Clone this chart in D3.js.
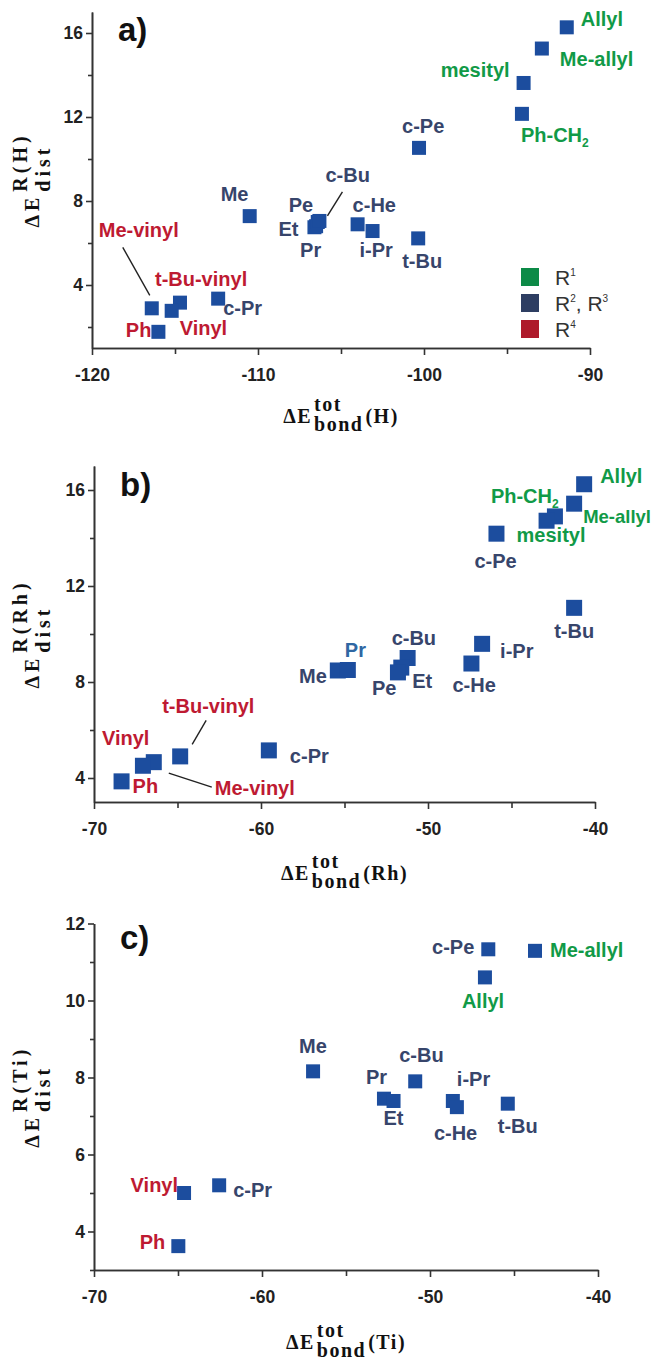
<!DOCTYPE html>
<html>
<head>
<meta charset="utf-8">
<script src="https://cdn.jsdelivr.net/npm/d3@7"></script>
<style>
  body { margin: 0; background: #fff; }
  svg { display: block; }
  .tick text { font-family: "Liberation Sans", Arial, sans-serif; font-weight: bold; font-size: 17.5px; fill: #222; }
  .tick line, .domain { stroke: #333; stroke-width: 1.6; }
</style>
</head>
<body>
<div id="chart"></div>
<script>
// ---- data ----
// substituent groups (label colour)
const r1Names = ["Allyl", "Me-allyl", "mesityl", "Ph-CH2"];
const r4Names = ["Me-vinyl", "t-Bu-vinyl", "Vinyl", "Ph"];

// a) H
const namesA = ["Allyl", "Me-allyl", "mesityl", "Ph-CH2", "c-Pe", "Me", "Et", "Pr", "Pe", "c-Bu", "c-He", "i-Pr", "t-Bu", "c-Pr", "Me-vinyl", "t-Bu-vinyl", "Vinyl", "Ph"];
const bondA = [-91.4, -92.9, -94.0, -94.1, -100.3, -110.5, -106.6, -106.5, -106.4, -106.3, -104.0, -103.1, -100.35, -112.4, -116.4, -114.7, -115.2, -116.0];
const distA = [16.27, 15.26, 13.62, 12.15, 10.53, 7.28, 6.75, 6.8, 7.0, 7.05, 6.89, 6.57, 6.22, 3.35, 2.89, 3.16, 2.77, 1.77];

// b) Rh
const namesB = ["Allyl", "Me-allyl", "Ph-CH2", "mesityl", "c-Pe", "t-Bu", "i-Pr", "c-He", "c-Bu", "Et", "Pe", "Me", "Pr", "c-Pr", "t-Bu-vinyl", "Me-vinyl", "Vinyl", "Ph"];
const bondB = [-40.65, -41.25, -42.4, -42.9, -45.9, -41.25, -46.76, -47.4, -51.22, -51.6, -51.8, -55.4, -54.8, -59.53, -64.84, -66.42, -67.07, -68.35];
const distB = [16.24, 15.43, 14.9, 14.72, 14.18, 11.09, 9.59, 8.77, 9.0, 8.6, 8.4, 8.48, 8.5, 5.15, 4.9, 4.66, 4.51, 3.86];

// c) Ti
const namesC = ["c-Pe", "Me-allyl", "Allyl", "Me", "c-Bu", "Pr", "Et", "i-Pr", "c-He", "t-Bu", "c-Pr", "Vinyl", "Ph"];
const bondC = [-46.53, -43.75, -46.73, -56.96, -50.88, -52.74, -52.17, -48.64, -48.4, -45.37, -62.55, -64.64, -64.98];
const distC = [11.33, 11.29, 10.6, 8.16, 7.9, 7.45, 7.39, 7.39, 7.23, 7.32, 5.2, 5.0, 3.62];

// ticks
const xTicksA = [-120, -110, -100, -90];
const xMinorA = [-115, -105, -95];
const yTicksA = [4, 8, 12, 16];
const yMinorA = [2, 6, 10, 14];
const xTicksBC = [-70, -60, -50, -40];
const xMinorBC = [-65, -55, -45];
const yTicksB = [4, 8, 12, 16];
const yMinorB = [6, 10, 14];
const yTicksC = [4, 6, 8, 10, 12];
const yMinorC = [3, 5, 7, 9, 11];

const legendLabels = [["R", "1"], ["R", "2", ", R", "3"], ["R", "4"]];
const legendGroups = ["R1", "R23", "R4"];

// ---- styling / layout ----
const W = 652, H = 1362;
const squareColor = "#1c4d9e";
const groupColor = { R1: "#119a47", R23: "#37456b", R4: "#be1a32" };
const legendColor = { R1: "#0c8a47", R23: "#2e3e62", R4: "#ae1a2b" };
const labelFont = '"Liberation Sans", Arial, sans-serif';
const serif = '"Liberation Serif", "Times New Roman", serif';

// label offsets relative to each square: [dx, dy(baseline), anchor]
const labelPosA = {
  "Allyl": [14, -1, "start"], "Me-allyl": [18, 17, "start"], "mesityl": [-14, -6, "end"],
  "Ph-CH2": [-1, 28, "start"], "c-Pe": [-17, -15, "start"], "c-Bu": [6, -39, "start"],
  "Pe": [-29, -10, "start"], "Et": [-16, 9, "end"], "Pr": [-16, 31, "start"],
  "Me": [-29, -15, "start"], "c-He": [-5, -12, "start"], "i-Pr": [-13, 26, "start"],
  "t-Bu": [-16, 30, "start"], "c-Pr": [5, 16, "start"], "Me-vinyl": [-53, -71, "start"],
  "t-Bu-vinyl": [-25, -17, "start"], "Vinyl": [8, 24, "start"], "Ph": [-7, 5, "end"]
};
const labelPosB = {
  "Allyl": [16, -1, "start"], "Me-allyl": [9, 19, "start"], "Ph-CH2": [-64, -13, "start"],
  "mesityl": [-30, 21, "start"], "c-Pe": [-22, 34, "start"], "t-Bu": [-20, 30, "start"],
  "i-Pr": [18, 14, "start"], "c-He": [-19, 28, "start"], "c-Bu": [-16, -13, "start"],
  "Et": [11, 20, "start"], "Pe": [-26, 23, "start"], "Me": [-11, 13, "end"],
  "Pr": [-3, -13, "start"], "c-Pr": [21, 13, "start"], "t-Bu-vinyl": [-18, -43, "start"],
  "Me-vinyl": [61, 33, "start"], "Vinyl": [-41, -21, "start"], "Ph": [11, 12, "start"]
};
const labelPosC = {
  "c-Pe": [-14, 5, "end"], "Me-allyl": [15, 6, "start"], "Allyl": [-23, 31, "start"],
  "Me": [-14, -18, "start"], "c-Bu": [-16, -19, "start"], "Pr": [-18, -15, "start"],
  "Et": [-10, 24, "start"], "i-Pr": [4, -15, "start"], "c-He": [-23, 33, "start"],
  "t-Bu": [-10, 29, "start"], "c-Pr": [14, 12, "start"], "Vinyl": [-6, -1, "end"],
  "Ph": [-13, 3, "end"]
};
// leader lines: [x1, y1, x2, y2] relative to the square
const leadersA = { "c-Bu": [23, -29, 8, -5], "Me-vinyl": [-29, -61, -2, -13] };
const leadersB = { "t-Bu-vinyl": [26, -36, 12, -12], "Me-vinyl": [15, 11, 58, 25] };

const svg = d3.select("#chart").append("svg")
  .attr("width", W).attr("height", H);

function groupOf(name) {
  if (r1Names.includes(name)) return "R1";
  if (r4Names.includes(name)) return "R4";
  return "R23";
}

// plain hyphen-minus like the original, not d3's U+2212
const fmt = d => String(d);

function drawPanel(p) {
  const x = d3.scaleLinear().domain(p.xDomain).range(p.xRange);
  const y = d3.scaleLinear().domain(p.yDomain).range(p.yRange);
  const g = svg.append("g");

  // x axis: minor first, then major with labels
  g.append("g").attr("transform", `translate(0,${p.yRange[0]})`)
    .call(d3.axisBottom(x).tickValues(p.xMinor).tickSize(6).tickSizeOuter(0).tickFormat(""));
  g.append("g").attr("transform", `translate(0,${p.yRange[0]})`)
    .call(d3.axisBottom(x).tickValues(p.xTicks).tickSize(7).tickSizeOuter(0).tickPadding(10).tickFormat(fmt))
    .call(a => a.selectAll("text").attr("dy", "0.9em"));

  g.append("g").attr("transform", `translate(${p.xRange[0]},0)`)
    .call(d3.axisLeft(y).tickValues(p.yMinor).tickSize(4).tickSizeOuter(0).tickFormat(""));
  g.append("g").attr("transform", `translate(${p.xRange[0]},0)`)
    .call(d3.axisLeft(y).tickValues(p.yTicks).tickSize(6).tickSizeOuter(0).tickPadding(3).tickFormat(fmt));

  const data = p.names.map((n, i) => ({ name: n, bx: p.bond[i], dy: p.dist[i] }));

  // leader lines
  data.filter(d => p.leaders[d.name]).forEach(d => {
    const l = p.leaders[d.name];
    g.append("line")
      .attr("x1", x(d.bx) + l[0]).attr("y1", y(d.dy) + l[1])
      .attr("x2", x(d.bx) + l[2]).attr("y2", y(d.dy) + l[3])
      .attr("stroke", "#222").attr("stroke-width", 1.4);
  });

  // squares
  g.selectAll("rect.pt").data(data).enter().append("rect")
    .attr("class", "pt")
    .attr("x", d => x(d.bx) - p.size / 2)
    .attr("y", d => y(d.dy) - p.size / 2)
    .attr("width", p.size).attr("height", p.size)
    .attr("fill", squareColor);

  // labels
  const lab = g.selectAll("text.lab").data(data).enter().append("text")
    .attr("class", "lab")
    .attr("x", d => x(d.bx) + p.labelPos[d.name][0])
    .attr("y", d => y(d.dy) + p.labelPos[d.name][1])
    .attr("text-anchor", d => p.labelPos[d.name][2])
    .attr("font-family", labelFont).attr("font-weight", "bold")
    .attr("font-size", d => (p.sizeOverride && p.sizeOverride[d.name]) || 20)
    .attr("fill", d => (p.colorOverride && p.colorOverride[d.name]) || groupColor[groupOf(d.name)]);
  lab.each(function (d) {
    const t = d3.select(this);
    if (d.name === "Ph-CH2") {
      t.append("tspan").text("Ph-CH");
      t.append("tspan").text("2").attr("font-size", 12).attr("dy", 5);
    } else {
      t.text(d.name);
    }
  });

  // panel letter
  svg.append("text").attr("x", p.letter[0]).attr("y", p.letter[1])
    .attr("font-family", labelFont).attr("font-weight", "bold").attr("font-size", 33)
    .attr("fill", "#111").text(p.letter[2]);

  xTitle((p.xRange[0] + p.xRange[1]) / 2, p.xTitleBase, p.metal);
  yTitle((p.yRange[0] + p.yRange[1]) / 2, 39, p.metal);
}

function xTitle(cx, base, metal) {
  const t = svg.append("g").attr("font-family", serif).attr("font-weight", "bold")
    .attr("font-size", 20).attr("fill", "#111").attr("letter-spacing", 1.5);
  const a = t.append("text").attr("x", 0).attr("y", base).text("ΔE");
  const w = a.node().getComputedTextLength() + 2;
  const sup = t.append("text").attr("x", w).attr("y", base - 12).text("tot");
  const sub = t.append("text").attr("x", w).attr("y", base + 8).text("bond");
  const w2 = w + Math.max(sup.node().getComputedTextLength(), sub.node().getComputedTextLength()) + 2;
  const m = t.append("text").attr("x", w2).attr("y", base).text(`(${metal})`);
  const total = w2 + m.node().getComputedTextLength();
  t.attr("transform", `translate(${cx - total / 2},0)`);
}

function yTitle(cy, base, metal) {
  const t = svg.append("g").attr("transform", "rotate(-90)")
    .attr("font-family", serif).attr("font-weight", "bold")
    .attr("font-size", 20).attr("fill", "#111").attr("letter-spacing", 4);
  const a = t.append("text").attr("x", 0).attr("y", base).text("ΔE");
  const w = a.node().getComputedTextLength() + 2;
  const sup = t.append("text").attr("x", w).attr("y", base - 12).text(`R(${metal})`);
  const sub = t.append("text").attr("x", w).attr("y", base + 11).text("dist");
  const total = w + Math.max(sup.node().getComputedTextLength(), sub.node().getComputedTextLength());
  t.attr("transform", `rotate(-90) translate(${-cy - total / 2},0)`);
}

drawPanel({
  names: namesA, bond: bondA, dist: distA, metal: "H",
  xDomain: [-120, -90], xRange: [92, 590], yDomain: [1, 17], yRange: [348, 12],
  xTicks: xTicksA, xMinor: xMinorA, yTicks: yTicksA, yMinor: yMinorA,
  size: 14, labelPos: labelPosA, leaders: leadersA,
  letter: [118, 41, "a)"], xTitleBase: 423
});
drawPanel({
  names: namesB, bond: bondB, dist: distB, metal: "Rh",
  xDomain: [-70, -40], xRange: [94, 595], yDomain: [3, 17], yRange: [802, 466],
  xTicks: xTicksBC, xMinor: xMinorBC, yTicks: yTicksB, yMinor: yMinorB,
  size: 16, labelPos: labelPosB, leaders: leadersB,
  colorOverride: { "Pr": "#2f67a3" }, sizeOverride: { "Me-allyl": 18.5 },
  letter: [120, 496, "b)"], xTitleBase: 880
});
drawPanel({
  names: namesC, bond: bondC, dist: distC, metal: "Ti",
  xDomain: [-70, -40], xRange: [94, 598], yDomain: [3, 12], yRange: [1270, 923.5],
  xTicks: xTicksBC, xMinor: xMinorBC, yTicks: yTicksC, yMinor: yMinorC,
  size: 14, labelPos: labelPosC, leaders: {},
  letter: [120, 949, "c)"], xTitleBase: 1349
});

// legend (panel a)
const leg = svg.append("g");
legendGroups.forEach((grp, i) => {
  const cy = 277 + i * 26;
  leg.append("rect").attr("x", 521).attr("y", cy - 9).attr("width", 18).attr("height", 18)
    .attr("fill", legendColor[grp]);
  const t = leg.append("text").attr("x", 555).attr("y", cy + 8)
    .attr("font-family", labelFont).attr("font-size", 21).attr("fill", "#333");
  legendLabels[i].forEach((s, k) => {
    if (k % 2 === 0) t.append("tspan").text(s).attr("dy", k === 0 ? 0 : 9).attr("font-size", 21);
    else t.append("tspan").text(s).attr("dy", -9).attr("font-size", 10);
  });
});
</script>
</body>
</html>
